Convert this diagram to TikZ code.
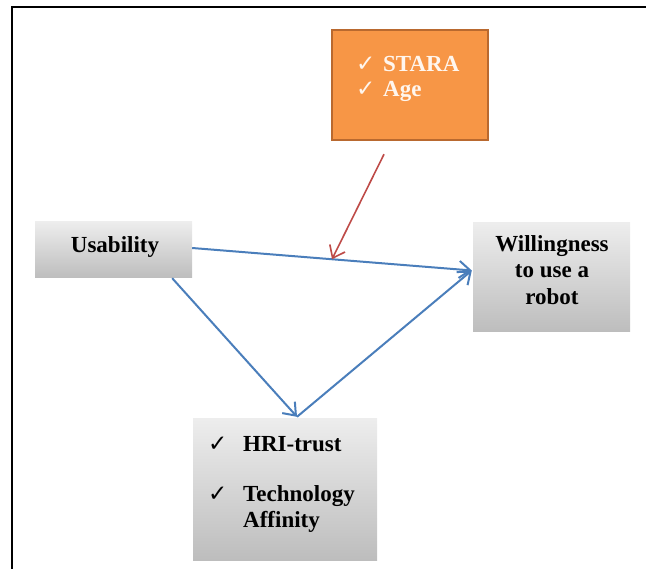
\documentclass[tikz,border=0pt]{standalone}
\usepackage{fontspec}
\setmainfont{Liberation Serif}
\newfontfamily\symfont{DejaVu Sans}
\usetikzlibrary{arrows.meta,calc}
\definecolor{orfill}{HTML}{F79646}
\definecolor{ordraw}{HTML}{B9692F}
\definecolor{blu}{HTML}{4A7EBB}
\definecolor{redd}{HTML}{BE4B48}
\definecolor{gtop}{HTML}{EDEDED}
\definecolor{gbot}{HTML}{BDBDBD}
\definecolor{wtxt}{HTML}{FFF6EE}
\begin{document}
\begin{tikzpicture}[x=1pt,y=-1pt,
  graybox/.style={rectangle, draw=none, inner sep=0pt, top color=gtop, bottom color=gbot},
  orbox/.style={rectangle, draw=ordraw, line width=2.5pt, fill=orfill, inner sep=0pt},
  lbl/.style={inner sep=0pt, font=\fontsize{23}{27}\selectfont\bfseries},
  chk/.style={inner sep=0pt, font=\symfont\fontsize{23}{26}\selectfont},
  bluarrow/.style={draw=blu, line width=2pt, -{Straight Barb[length=11pt,width=17pt,line width=2pt]}},
  redarrow/.style={draw=redd, line width=1.6pt, -{Straight Barb[length=11pt,width=17pt,line width=1.6pt]}}
]
\useasboundingbox (0,0) rectangle (646,569);
\draw[line width=2.6pt] (12,569) -- (12,7) -- (646,7);

% boxes
\node[orbox, minimum width=156pt, minimum height=110pt] (ora) at (410,85) {};
\node[graybox, minimum width=157pt, minimum height=56pt] (usab) at (113.5,250) {};
\node[graybox, minimum width=157pt, minimum height=109pt] (will) at (551.5,277.5) {};
\node[graybox, minimum width=184pt, minimum height=141pt] (bot) at (285,489.5) {};

% texts
\node[chk, anchor=base west, text=wtxt] (c1) at (356,72) {✓};
\node[lbl, anchor=base west, text=wtxt] (t1) at (383,72) {STARA};
\node[chk, anchor=base west, text=wtxt] (c2) at (356,97) {✓};
\node[lbl, anchor=base west, text=wtxt] (t2) at (383,97) {Age};

\node[lbl, anchor=base] (tu) at (115,253) {Usability};

\node[lbl, anchor=base] (tw1) at (552,252) {Willingness};
\node[lbl, anchor=base] (tw2) at (552,278) {to use a};
\node[lbl, anchor=base] (tw3) at (552,305) {robot};

\node[chk, anchor=base west] (c3) at (208,452) {✓};
\node[lbl, anchor=base west] (tb1) at (243,452) {HRI-trust};
\node[chk, anchor=base west] (c4) at (208,502) {✓};
\node[lbl, anchor=base west] (tb2) at (243,502) {Technology};
\node[lbl, anchor=base west] (tb3) at (243,528) {Affinity};

% connector points
\coordinate (ue) at ([yshift=2pt]usab.east);
\coordinate (wt) at ([xshift=-1pt,yshift=7pt]will.west);
\coordinate (us) at ([xshift=-20pt]usab.south east);
\coordinate (v) at ([xshift=12pt,yshift=2pt]bot.north);
\coordinate (rs) at ([xshift=-26pt,yshift=-13pt]ora.south);
\coordinate (mid) at ($(ue)!0.5!(wt)$);

% connectors
\draw[bluarrow] (ue) -- (wt);
\draw[bluarrow] (us) -- (v);
\draw[bluarrow] (v) -- (wt);
\draw[redarrow] (rs) -- (mid);
\end{tikzpicture}
\end{document}
